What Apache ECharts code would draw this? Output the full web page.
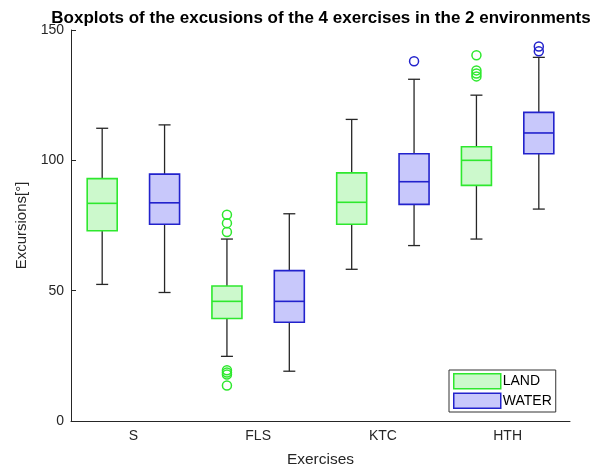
<!DOCTYPE html>
<html>
<head>
<meta charset="utf-8">
<script src="https://cdn.jsdelivr.net/npm/echarts@6/dist/echarts.min.js"></script>
<style>
html,body{margin:0;padding:0;background:#fff;}
#chart{width:603px;height:473px;}
</style>
</head>
<body>
<div id="chart"></div>
<script>
// ---- data ----
const categories = ['S', 'FLS', 'KTC', 'HTH'];
// [lowerWhisker, Q1, median, Q3, upperWhisker] per category
const landStats = [
  [52.4, 73.0, 83.5, 93.0, 112.3],
  [24.8, 39.3, 45.9, 51.8, 69.8],
  [58.2, 75.5, 83.9, 95.2, 115.7],
  [69.8, 90.4, 100.0, 105.2, 125.0]
];
const waterStats = [
  [49.3, 75.5, 83.7, 94.7, 113.6],
  [19.1, 37.9, 45.9, 57.7, 79.5],
  [67.3, 83.1, 91.8, 102.5, 131.1],
  [81.3, 102.5, 110.5, 118.4, 139.5]
];
// outliers: [categoryIndex, value]
const landOutliers = [
  [1, 79.1], [1, 75.9], [1, 72.5], [1, 19.5], [1, 18.6], [1, 17.8], [1, 13.6],
  [3, 140.3], [3, 134.5], [3, 133.3], [3, 132.2]
];
const waterOutliers = [
  [2, 138.0],
  [3, 143.7], [3, 141.8]
];
const yTicks = [0, 50, 100, 150];

const LAND_EDGE = '#2ee82e', LAND_FILL = '#ccf9cc';
const WATER_EDGE = '#2222cc', WATER_FILL = '#c8c8fb';

function boxRenderer(offFrac, edge, fill) {
  return function (params, api) {
    const ci = api.value(0);
    const band = api.size([1, 0])[0];
    const x = api.coord([ci, 0])[0] + band * offFrac;
    const yMin = api.coord([ci, api.value(1)])[1];
    const yQ1 = api.coord([ci, api.value(2)])[1];
    const yMed = api.coord([ci, api.value(3)])[1];
    const yQ3 = api.coord([ci, api.value(4)])[1];
    const yMax = api.coord([ci, api.value(5)])[1];
    const hw = 15, cw = 6;
    const wStyle = { stroke: '#262626', lineWidth: 1.3 };
    return {
      type: 'group',
      children: [
        { type: 'line', shape: { x1: x, y1: yMax, x2: x, y2: yQ3 }, style: wStyle },
        { type: 'line', shape: { x1: x, y1: yQ1, x2: x, y2: yMin }, style: wStyle },
        { type: 'line', shape: { x1: x - cw, y1: yMax, x2: x + cw, y2: yMax }, style: wStyle },
        { type: 'line', shape: { x1: x - cw, y1: yMin, x2: x + cw, y2: yMin }, style: wStyle },
        { type: 'rect', shape: { x: x - hw, y: yQ3, width: hw * 2, height: yQ1 - yQ3 },
          style: { fill: fill, stroke: edge, lineWidth: 1.6 } },
        { type: 'line', shape: { x1: x - hw, y1: yMed, x2: x + hw, y2: yMed },
          style: { stroke: edge, lineWidth: 1.6 } }
      ]
    };
  };
}
function outlierRenderer(offFrac, edge) {
  return function (params, api) {
    const ci = api.value(0);
    const band = api.size([1, 0])[0];
    const p = api.coord([ci, api.value(1)]);
    return { type: 'circle', shape: { cx: p[0] + band * offFrac, cy: p[1], r: 4.5 },
      style: { fill: 'none', stroke: edge, lineWidth: 1.5 } };
  };
}

const landData = landStats.map((s, i) => [i].concat(s));
const waterData = waterStats.map((s, i) => [i].concat(s));

const chart = echarts.init(document.getElementById('chart'), null, { renderer: 'canvas' });
const FONT = 'Liberation Sans, Arial, Helvetica, sans-serif';
chart.setOption({
  animation: false,
  backgroundColor: '#fff',
  title: {
    text: 'Boxplots of the excusions of the 4 exercises in the 2 environments',
    left: 316, top: 5, textAlign: 'center',
    textStyle: { fontFamily: FONT, fontSize: 17, fontWeight: 'bold', color: '#000' }
  },
  grid: { left: 71, right: 33, top: 30, bottom: 50 },
  legend: {
    orient: 'vertical', left: 449, top: 370,
    backgroundColor: '#fff', borderColor: '#333', borderWidth: 1,
    padding: [3, 4, 3, 4], itemGap: 3, itemWidth: 47, itemHeight: 15,
    icon: 'rect',
    textStyle: { fontFamily: FONT, fontSize: 14, color: '#000', padding: [0, 0, 0, -3] },
    data: [
      { name: 'LAND', itemStyle: { color: LAND_FILL, borderColor: LAND_EDGE, borderWidth: 1.5 } },
      { name: 'WATER', itemStyle: { color: WATER_FILL, borderColor: WATER_EDGE, borderWidth: 1.5 } }
    ]
  },
  xAxis: {
    type: 'category', data: categories, boundaryGap: true,
    name: 'Exercises', nameLocation: 'middle', nameGap: 31,
    nameTextStyle: { fontFamily: FONT, fontSize: 15.5, color: '#262626' },
    axisLine: { lineStyle: { color: '#262626', width: 1 } },
    axisTick: { inside: true, alignWithLabel: true, length: 5, lineStyle: { color: '#262626' } },
    axisLabel: { fontFamily: FONT, fontSize: 14, color: '#262626', margin: 8 },
    splitLine: { show: false }
  },
  yAxis: {
    type: 'value', min: 0, max: 150, interval: 50,
    name: 'Excursions[°]', nameLocation: 'middle', nameGap: 42,
    nameTextStyle: { fontFamily: FONT, fontSize: 15, color: '#262626' },
    axisLine: { show: true, lineStyle: { color: '#262626', width: 1 } },
    axisTick: { show: true, inside: true, length: 5, lineStyle: { color: '#262626' } },
    axisLabel: { fontFamily: FONT, fontSize: 14, color: '#262626', margin: 7,
      formatter: v => (yTicks.indexOf(v) >= 0 ? String(v) : '') },
    splitLine: { show: false }
  },
  series: [
    { name: 'LAND', type: 'custom', renderItem: boxRenderer(-0.25, LAND_EDGE, LAND_FILL),
      encode: { x: 0, y: [1, 2, 3, 4, 5] }, data: landData,
      itemStyle: { color: LAND_FILL, borderColor: LAND_EDGE } },
    { name: 'WATER', type: 'custom', renderItem: boxRenderer(0.25, WATER_EDGE, WATER_FILL),
      encode: { x: 0, y: [1, 2, 3, 4, 5] }, data: waterData,
      itemStyle: { color: WATER_FILL, borderColor: WATER_EDGE } },
    { name: 'landOut', type: 'custom', renderItem: outlierRenderer(-0.25, LAND_EDGE),
      encode: { x: 0, y: 1 }, data: landOutliers },
    { name: 'waterOut', type: 'custom', renderItem: outlierRenderer(0.25, WATER_EDGE),
      encode: { x: 0, y: 1 }, data: waterOutliers }
  ]
});
</script>
</body>
</html>
